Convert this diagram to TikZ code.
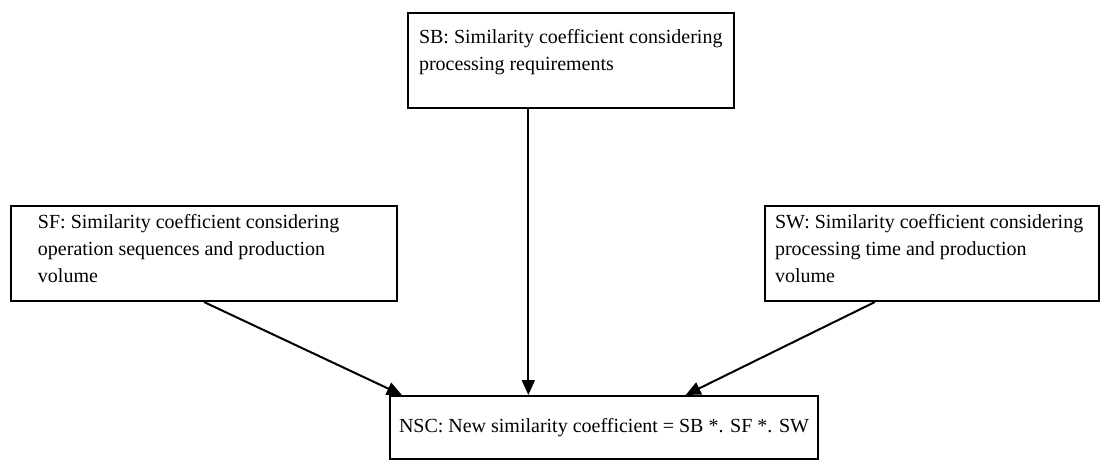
\documentclass[tikz,border=0pt]{standalone}
\usepackage{fontspec}
\setmainfont{Liberation Serif}
\usetikzlibrary{positioning,calc,arrows.meta}

\begin{document}
\begin{tikzpicture}[>={Triangle[length=7.5pt,width=6.5pt]}, x=0.5pt, y=-0.5pt]
    \tikzstyle{box}=[draw, line width=1pt, rectangle, anchor=north west, inner xsep=5.5pt, font=\fontsize{10}{13.5}\selectfont]
    \tikzstyle{link}=[->, line width=1pt]

    % Canvas
    \useasboundingbox (0,0) rectangle (1104,463);

    % Partial similarity coefficients
    \node[box, inner ysep=8pt] (SB) at (407,12)
        {\parbox[t][31.5pt][t]{152pt}{\raggedright SB: Similarity coefficient considering\\processing requirements}};
    \node[box, inner ysep=4pt] (SF) at (10,205)
        {\parbox[t][39.5pt][t]{182pt}{\raggedright\leftskip=8pt SF: Similarity coefficient considering\\operation sequences and production\\volume}};
    \node[box, inner ysep=4pt, inner xsep=5pt] (SW) at (764,205)
        {\parbox[t][39.5pt][t]{157pt}{\raggedright SW: Similarity coefficient considering\\processing time and production\\volume}};

    % New similarity coefficient
    \node[box, inner ysep=11pt, inner xsep=4.5pt] (NSC) at (389,395)
        {\parbox[t][9.5pt][t]{205pt}{\raggedright NSC: New similarity coefficient = SB *. SF *. SW}};

    % Arrows into NSC
    \draw[link] ($(SB.south west)!0.37!(SB.south east)$) coordinate (sbout) -- (sbout |- NSC.north);
    \draw[link] (SF.south) -- ($(NSC.north west)!0.03!(NSC.north east)$);
    \draw[link] ($(SW.south west)!0.33!(SW.south east)$) -- ($(NSC.north west)!0.69!(NSC.north east)$);
\end{tikzpicture}
\end{document}
